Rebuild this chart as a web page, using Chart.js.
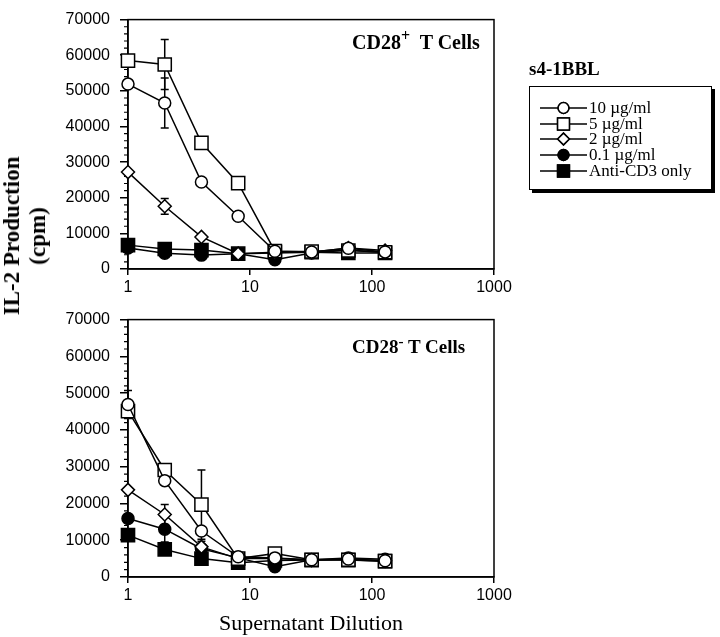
<!DOCTYPE html>
<html>
<head>
<meta charset="utf-8">
<script src="https://cdn.jsdelivr.net/npm/chart.js@4"></script>
<style>
  html, body { margin: 0; padding: 0; background: #fff; }
  #wrap { position: relative; width: 720px; height: 637px; overflow: hidden; }
  canvas { position: absolute; left: 0; }
  .serifb { font-family: "Liberation Serif", "Times New Roman", serif; font-weight: bold; color: #000; position: absolute; white-space: nowrap; }
  sup { font-size: 0.8em; position: relative; vertical-align: super; line-height: 0; }
</style>
</head>
<body>
<div id="wrap">
  <canvas id="top" width="720" height="300" style="top:0px"></canvas>
  <canvas id="bot" width="720" height="337" style="top:300px"></canvas>

  <div class="serifb" style="left:25px; top:236px; transform: translate(-50%,-50%) rotate(-90deg); text-align:center; font-size:23px; line-height:26px;">IL-2 Production<br>(cpm)</div>

  <div class="serifb" style="left:352px; top:31px; font-size:20px;">CD28<sup>+</sup>&nbsp; T Cells</div>
  <div class="serifb" style="left:352px; top:336px; font-size:19px;">CD28<sup>-</sup> T Cells</div>

  <div class="serifb" style="left:529px; top:58px; font-size:19px;">s4-1BBL</div>
  <div id="legend" style="position:absolute; left:529px; top:86px; width:181px; height:102px; border:1.5px solid #000; box-shadow: 3px 3px 0 #000; background:#fff;"></div>
</div>
<script>
// ---- data ----
const dilutions = [1, 2, 4, 8, 16, 32, 64, 128];
const xTicks = [1, 10, 100, 1000];
const yTicks = [0, 10000, 20000, 30000, 40000, 50000, 60000, 70000];
const seriesLabels = ["10 \u00b5g/ml", "5 \u00b5g/ml", "2 \u00b5g/ml", "0.1 \u00b5g/ml", "Anti-CD3 only"];

// CD28+ T cells
const pos10 = [51900, 46600, 24400, 14800, 5000, 4800, 5800, 4800];
const pos5 = [58500, 57400, 35400, 24100, 5000, 4900, 5200, 4700];
const pos2 = [27200, 17600, 9000, 4300, 4500, 4700, 5900, 5200];
const pos01 = [5900, 4400, 3900, 4300, 2600, 4500, 5300, 4600];
const posCD3 = [6700, 5600, 5300, 4300, 4700, 4700, 4500, 4500];
const pos10Err = [0, 7000, 0, 0, 0, 0, 0, 0];
const pos5Err = [0, 7000, 0, 0, 0, 0, 0, 0];
const pos2Err = [0, 2200, 0, 0, 0, 0, 0, 0];
const pos01Err = [0, 0, 0, 0, 0, 0, 0, 0];
const posCD3Err = [0, 0, 0, 0, 0, 0, 0, 0];

// CD28- T cells
const neg10 = [46900, 26200, 12500, 5500, 5200, 4700, 4900, 4400];
const neg5 = [45100, 29100, 19700, 5000, 6400, 4700, 4700, 4300];
const neg2 = [23700, 17000, 8200, 5000, 5000, 4600, 4800, 4400];
const neg01 = [15900, 13000, 7700, 5200, 2800, 4700, 5200, 4800];
const negCD3 = [11400, 7500, 5000, 3900, 4500, 4600, 4600, 4300];
const neg10Err = [3800, 0, 0, 0, 0, 0, 0, 0];
const neg5Err = [0, 0, 9400, 0, 0, 0, 0, 0];
const neg2Err = [0, 2700, 0, 0, 0, 0, 0, 0];
const neg01Err = [0, 3500, 2000, 0, 0, 0, 0, 0];
const negCD3Err = [0, 0, 0, 0, 0, 0, 0, 0];

// ---- styles ----
const styles = [
  { pointStyle: 'circle', pointRadius: 6, fill: '#fff' },
  { pointStyle: 'rect', pointRadius: 9.3, fill: '#fff' },
  { pointStyle: 'rectRot', pointRadius: 6.5, fill: '#fff' },
  { pointStyle: 'circle', pointRadius: 6, fill: '#000' },
  { pointStyle: 'rect', pointRadius: 9.3, fill: '#000' }
];

function makeDatasets(values, errs) {
  return values.map((vals, i) => ({
    label: seriesLabels[i],
    data: dilutions.map((d, k) => ({ x: d, y: vals[k] })),
    errs: errs[i],
    borderColor: '#000',
    borderWidth: 1.5,
    pointStyle: styles[i].pointStyle,
    pointRadius: styles[i].pointRadius,
    pointHoverRadius: styles[i].pointRadius,
    pointBackgroundColor: styles[i].fill,
    pointBorderColor: '#000',
    pointBorderWidth: 1.5,
    backgroundColor: styles[i].fill,
    fill: false,
    tension: 0,
    clip: false
  }));
}

const errorBars = {
  id: 'errorBars',
  beforeDatasetsDraw(chart) {
    const ctx = chart.ctx;
    const xs = chart.scales.x, ys = chart.scales.y;
    ctx.save();
    ctx.strokeStyle = '#000';
    ctx.lineWidth = 1.5;
    chart.data.datasets.forEach(ds => {
      ds.data.forEach((p, k) => {
        const e = ds.errs ? ds.errs[k] : 0;
        if (!e) return;
        const x = xs.getPixelForValue(p.x);
        const y1 = ys.getPixelForValue(p.y - e);
        const y2 = ys.getPixelForValue(p.y + e);
        ctx.beginPath();
        ctx.moveTo(x, y1); ctx.lineTo(x, y2);
        ctx.moveTo(x - 4, y1); ctx.lineTo(x + 4, y1);
        ctx.moveTo(x - 4, y2); ctx.lineTo(x + 4, y2);
        ctx.stroke();
      });
    });
    ctx.restore();
  }
};

const frame = {
  id: 'frame',
  beforeDatasetsDraw(chart) {
    const ctx = chart.ctx, a = chart.chartArea, ys = chart.scales.y;
    ctx.save();
    ctx.strokeStyle = '#000';
    ctx.lineWidth = 1.5;
    ctx.strokeRect(a.left, a.top, a.right - a.left, a.bottom - a.top);
    ctx.lineWidth = 1.2;
    ctx.beginPath();
    for (let v = 2000; v < 70000; v += 2000) {
      if (v % 10000 === 0) continue;
      const y = ys.getPixelForValue(v);
      ctx.moveTo(a.left - 4, y); ctx.lineTo(a.left, y);
    }
    ctx.stroke();
    ctx.restore();
  }
};

function makeChart(id, datasets, padTop, xHeight, withTitle) {
  return new Chart(document.getElementById(id), {
    type: 'line',
    data: { datasets },
    plugins: [frame, errorBars],
    options: {
      responsive: false,
      animation: false,
      events: [],
      layout: { padding: { left: 0, right: 226, top: padTop, bottom: 0 } },
      plugins: { legend: { display: false }, tooltip: { enabled: false } },
      scales: {
        x: {
          type: 'logarithmic',
          min: 1, max: 1000,
          afterBuildTicks: s => { s.ticks = xTicks.map(v => ({ value: v })); },
          afterFit: s => { s.height = xHeight; },
          ticks: {
            color: '#000',
            font: { family: '"Liberation Sans", Arial, sans-serif', size: 16 },
            padding: 3,
            maxRotation: 0,
            autoSkip: false,
            callback: v => String(v)
          },
          grid: { display: true, drawOnChartArea: false, drawTicks: true, tickLength: 6, color: '#000', lineWidth: 1.5 },
          border: { display: true, color: '#000', width: 1.5 },
          title: withTitle ? {
            display: true,
            text: 'Supernatant Dilution',
            color: '#000',
            font: { family: '"Liberation Serif", "Times New Roman", serif', size: 22 },
            padding: { top: 4, bottom: 0 },
            align: 'center'
          } : { display: false }
        },
        y: {
          type: 'linear',
          min: 0, max: 70000,
          afterBuildTicks: s => { s.ticks = yTicks.map(v => ({ value: v })); },
          afterFit: s => { s.width = 128; },
          ticks: {
            color: '#000',
            font: { family: '"Liberation Sans", Arial, sans-serif', size: 16 },
            padding: 10,
            callback: v => String(v)
          },
          grid: { display: true, drawOnChartArea: false, drawTicks: true, tickLength: 8, color: '#000', lineWidth: 1.5 },
          border: { display: true, color: '#000', width: 1.5 }
        }
      }
    }
  });
}

makeChart('top',
  makeDatasets([pos10, pos5, pos2, pos01, posCD3], [pos10Err, pos5Err, pos2Err, pos01Err, posCD3Err]),
  11, 31, false);
makeChart('bot',
  makeDatasets([neg10, neg5, neg2, neg01, negCD3], [neg10Err, neg5Err, neg2Err, neg01Err, negCD3Err]),
  18, 60, true);

// ---- legend ----
const legend = document.getElementById('legend');
seriesLabels.forEach((lab, i) => {
  const row = document.createElement('div');
  row.style.cssText = 'position:absolute; left:10px; top:' + (13 + i * 15.7) + 'px; height:16px; display:flex; align-items:center;';
  const c = document.createElement('canvas');
  c.width = 48; c.height = 16;
  c.style.cssText = 'position:static;';
  const ctx = c.getContext('2d');
  ctx.strokeStyle = '#000'; ctx.lineWidth = 1.5;
  ctx.beginPath(); ctx.moveTo(0, 8); ctx.lineTo(47, 8); ctx.stroke();
  ctx.fillStyle = styles[i].fill;
  Chart.helpers.drawPoint(ctx, { pointStyle: styles[i].pointStyle, radius: styles[i].pointRadius * 0.9, borderWidth: 1.5 }, 23.5, 8);
  ctx.fill(); ctx.stroke();
  row.appendChild(c);
  const t = document.createElement('span');
  t.textContent = lab;
  t.style.cssText = 'font-family:"Liberation Serif","Times New Roman",serif; font-size:17px; color:#000; margin-left:1px; line-height:16px;';
  row.appendChild(t);
  legend.appendChild(row);
});
</script>
</body>
</html>
